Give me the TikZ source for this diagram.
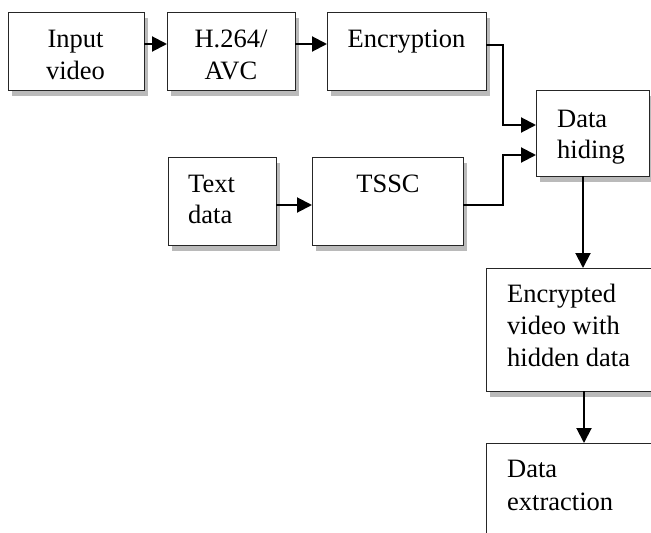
\documentclass[tikz,border=0pt]{standalone}
\usepackage{fontspec}
\setmainfont{Liberation Serif}
\usetikzlibrary{arrows.meta,shadows}
\begin{document}
\begin{tikzpicture}[x=1pt,y=-1pt,
  box/.style={draw=black!85, line width=1pt, fill=white, anchor=north west, inner sep=0pt, outer sep=0pt,
    drop shadow={shadow xshift=4pt, shadow yshift=-6pt, fill=black!27, opacity=1}},
  txt/.style={anchor=base, inner sep=0pt, font=\fontsize{26.5}{32}\selectfont},
  ltxt/.style={anchor=base west, inner sep=0pt, font=\fontsize{26.5}{32}\selectfont},
  arr/.style={line width=2pt, -{Triangle[length=15pt,width=15pt]}}]
\useasboundingbox (0,0) rectangle (651,533);
\clip (0,0) rectangle (651,533);
% boxes
\node[box, minimum width=136pt, minimum height=78pt] (iv) at (8,12) {};
\node[box, minimum width=128pt, minimum height=78pt] (h264) at (167,12) {};
\node[box, minimum width=159pt, minimum height=78pt] (enc) at (327,12) {};
\node[box, minimum width=113pt, minimum height=86pt] (dh) at (536,90) {};
\node[box, minimum width=108pt, minimum height=88pt] (td) at (168,157) {};
\node[box, minimum width=151pt, minimum height=88pt] (tssc) at (312,157) {};
\node[box, minimum width=220pt, minimum height=123pt] (ev) at (486,268) {};
\node[box, minimum width=220pt, minimum height=160pt] (de) at (486,443) {};
% texts
\node[txt] (t1a) at (75.5,47) {Input};
\node[txt] (t1b) at (75.5,79) {video};
\node[txt] (t2a) at (231,47) {H.264/};
\node[txt] (t2b) at (231,79) {AVC};
\node[txt] (t3a) at (406.5,47) {Encryption};
\node[ltxt] (t4a) at (557,127) {Data};
\node[ltxt] (t4b) at (557,158) {hiding};
\node[ltxt] (t5a) at (188,192) {Text};
\node[ltxt] (t5b) at (188,223) {data};
\node[txt] (t6a) at (388,192) {TSSC};
\node[ltxt] (t7a) at (507,302) {Encrypted};
\node[ltxt] (t7b) at (507,334) {video with};
\node[ltxt] (t7c) at (507,366) {hidden data};
\node[ltxt] (t8a) at (507,477) {Data};
\node[ltxt] (t8b) at (507,510) {extraction};
% connectors
\draw[arr] ([yshift=-32pt]iv.north east) -- ([yshift=-32pt]h264.north west);
\draw[arr] ([yshift=-32pt]h264.north east) -- ([yshift=-32pt]enc.north west);
\draw[arr] ([yshift=-33pt]enc.north east) -- ++(17,0) |- ([yshift=-35pt]dh.north west);
\draw[arr] ([yshift=-48pt]td.north east) -- ([yshift=-48pt]tssc.north west);
\draw[arr] ([yshift=-48pt]tssc.north east) -- ++(40,0) |- ([yshift=-65pt]dh.north west);
\draw[arr] ([xshift=47pt]dh.south west) -- ([xshift=97pt]ev.north west);
\draw[arr] ([xshift=98pt]ev.south west) -- ([xshift=98pt]de.north west);
\end{tikzpicture}
\end{document}
